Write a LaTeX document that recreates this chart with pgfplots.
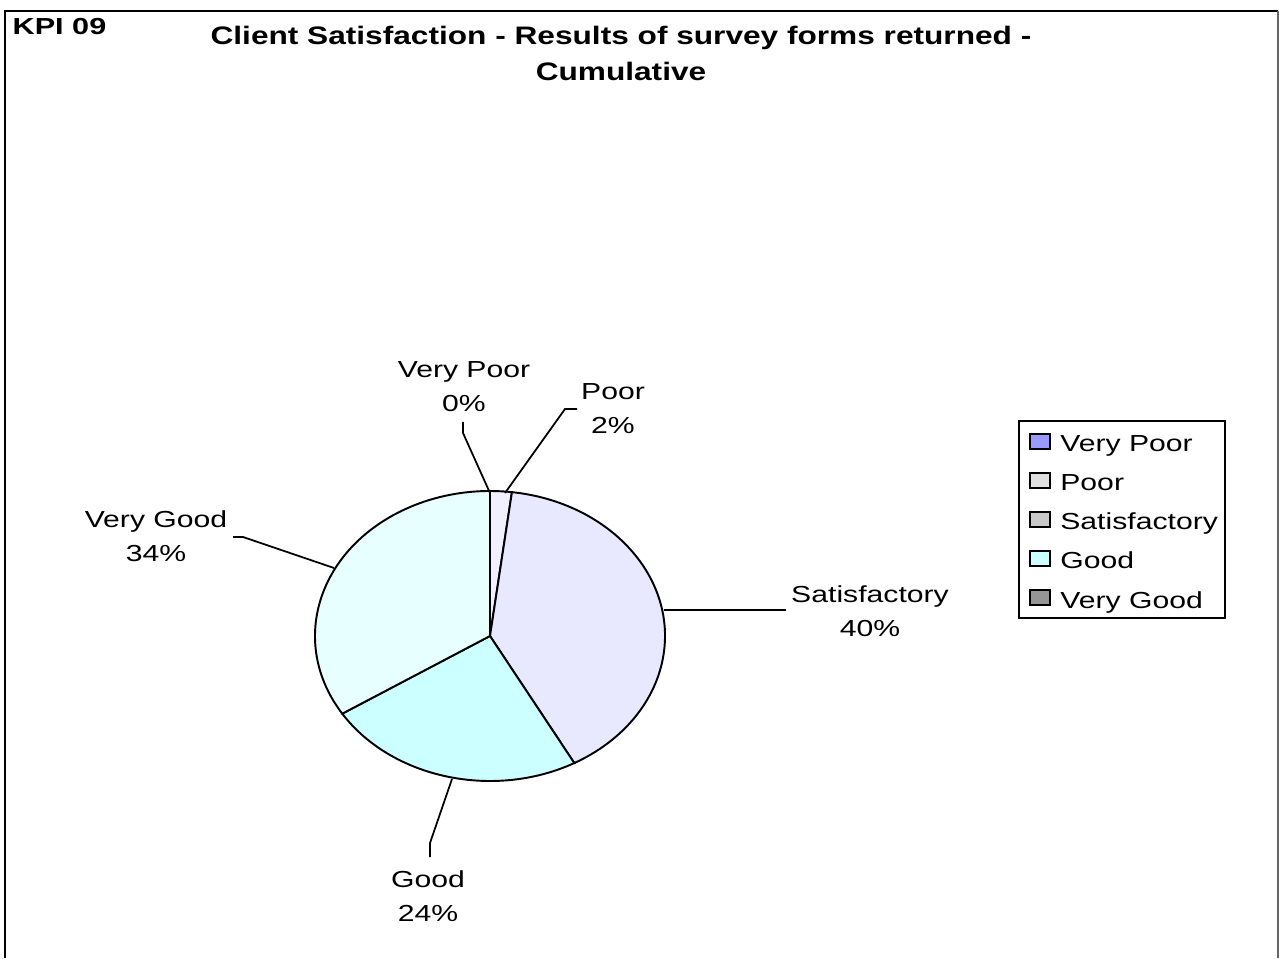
\documentclass[border=0pt]{standalone}
\usepackage{pgfplots}
\pgfplotsset{compat=1.18}
\usepackage{pgfplotstable}
\usepackage{fontspec}
\setmainfont{Liberation Sans}
\usepackage{graphicx}

\definecolor{piePoor}{HTML}{F0F0FF}
\definecolor{pieSat}{HTML}{E8E8FF}
\definecolor{pieGood}{HTML}{CCFFFF}
\definecolor{pieVG}{HTML}{E8FFFF}
\definecolor{pieVP}{HTML}{EEEEFF}
\definecolor{legVP}{HTML}{9999FF}
\definecolor{legPoor}{HTML}{E0E0E0}
\definecolor{legSat}{HTML}{C8C8C8}
\definecolor{legGood}{HTML}{CCFFFF}
\definecolor{legVG}{HTML}{969696}

\newcommand{\sx}[1]{\scalebox{1.3}[1]{#1}}
\newcommand{\lblfont}{\fontsize{6.6}{9.7}\selectfont}

\pgfplotstableread{
cat value
VeryPoor 0
Poor 2
Satisfactory 40
Good 24
VeryGood 34
}\piedata

\begin{document}
\begin{tikzpicture}
\pgfplotstablegetelem{0}{value}\of\piedata \pgfmathsetmacro\vA{\pgfplotsretval}
\pgfplotstablegetelem{1}{value}\of\piedata \pgfmathsetmacro\vB{\pgfplotsretval}
\pgfplotstablegetelem{2}{value}\of\piedata \pgfmathsetmacro\vC{\pgfplotsretval}
\pgfplotstablegetelem{3}{value}\of\piedata \pgfmathsetmacro\vD{\pgfplotsretval}
\pgfplotstablegetelem{4}{value}\of\piedata \pgfmathsetmacro\vE{\pgfplotsretval}
\pgfmathsetmacro\aZ{90}
\pgfmathsetmacro\aA{\aZ-3.6*\vA}
\pgfmathsetmacro\aB{\aA-3.6*\vB}
\pgfmathsetmacro\aC{\aB-3.6*\vC}
\pgfmathsetmacro\aD{\aC-3.6*\vD}
\pgfmathsetmacro\aE{\aD-3.6*\vE}
\begin{axis}[
  name=ax,
  width=12.79cm, height=9.58cm, scale only axis,
  xmin=0, xmax=1279, ymin=0, ymax=958,
  hide axis, clip=false,
  legend style={at={(axis cs:1018,538)}, anchor=north west, draw=black, line width=0.6pt,
    font=\lblfont, row sep=2.74pt, inner xsep=1pt, inner ysep=1.53pt,
    nodes={inner sep=1pt, text height=6.14pt, text depth=0.26pt},
    /tikz/every odd column/.style={column sep=1.8pt}},
  legend cell align=left,
  legend image code/.code={\path (0cm,0cm); \draw[#1, line width=0.5pt] (0.06cm,-0.075cm) rectangle (0.26cm,0.075cm);},
]
% frame
\draw[black, line width=0.6pt] (axis cs:5,0) -- (axis cs:5,947) -- (axis cs:1278,947);
\draw[gray!80!black, line width=0.45pt] (axis cs:1278,947) -- (axis cs:1278,0);

% pie slices
\filldraw[fill=pieVP, draw=black, line width=0.55pt] (axis cs:490,322) -- ++(\aZ:1.75cm and 1.45cm) arc[start angle=\aZ, end angle=\aA, x radius=1.75cm, y radius=1.45cm] -- cycle;
\filldraw[fill=piePoor, draw=black, line width=0.55pt] (axis cs:490,322) -- ++(\aA:1.75cm and 1.45cm) arc[start angle=\aA, end angle=\aB, x radius=1.75cm, y radius=1.45cm] -- cycle;
\filldraw[fill=pieSat, draw=black, line width=0.55pt] (axis cs:490,322) -- ++(\aB:1.75cm and 1.45cm) arc[start angle=\aB, end angle=\aC, x radius=1.75cm, y radius=1.45cm] -- cycle;
\filldraw[fill=pieGood, draw=black, line width=0.55pt] (axis cs:490,322) -- ++(\aC:1.75cm and 1.45cm) arc[start angle=\aC, end angle=\aD, x radius=1.75cm, y radius=1.45cm] -- cycle;
\filldraw[fill=pieVG, draw=black, line width=0.55pt] (axis cs:490,322) -- ++(\aD:1.75cm and 1.45cm) arc[start angle=\aD, end angle=\aE, x radius=1.75cm, y radius=1.45cm] -- cycle;

% leader lines
\draw[line width=0.5pt] (axis cs:463,536) -- (axis cs:463,525) -- (axis cs:490,465);
\draw[line width=0.5pt] (axis cs:577,549) -- (axis cs:565,549) -- (axis cs:505,465);
\draw[line width=0.5pt] (axis cs:664,348) -- (axis cs:786,348);
\draw[line width=0.5pt] (axis cs:452,179) -- (axis cs:430,115) -- (axis cs:430,101);
\draw[line width=0.5pt] (axis cs:334,390) -- (axis cs:243,421) -- (axis cs:233,421);

% data labels
\node[font=\lblfont, align=center] at (axis cs:464,571) {\sx{Very Poor}\\\sx{0\%}};
\node[font=\lblfont, align=center] at (axis cs:613,549) {\sx{Poor}\\\sx{2\%}};
\node[font=\lblfont, align=center] at (axis cs:870,347) {\sx{Satisfactory}\\\sx{40\%}};
\node[font=\lblfont, align=center] at (axis cs:428,62) {\sx{Good}\\\sx{24\%}};
\node[font=\lblfont, align=center] at (axis cs:156,421.5) {\sx{Very Good}\\\sx{34\%}};

% titles
\node[font=\bfseries\fontsize{7.2}{10.5}\selectfont, align=center] at (axis cs:621,904.5) {\scalebox{1.25}[1]{Client Satisfaction - Results of survey forms returned -}\\\scalebox{1.25}[1]{Cumulative}};
\node[anchor=west, inner sep=0pt, font=\bfseries\fontsize{6.6}{8}\selectfont] at (axis cs:12,931) {\scalebox{1.32}[1]{KPI 09}};

\addlegendimage{fill=legVP, draw=black}
\addlegendentry{\sx{Very Poor}}
\addlegendimage{fill=legPoor, draw=black}
\addlegendentry{\sx{Poor}}
\addlegendimage{fill=legSat, draw=black}
\addlegendentry{\sx{Satisfactory}}
\addlegendimage{fill=legGood, draw=black}
\addlegendentry{\sx{Good}}
\addlegendimage{fill=legVG, draw=black}
\addlegendentry{\sx{Very Good}}
\end{axis}
\pgfresetboundingbox
\useasboundingbox (ax.south west) rectangle (ax.north east);
\end{tikzpicture}
\end{document}
